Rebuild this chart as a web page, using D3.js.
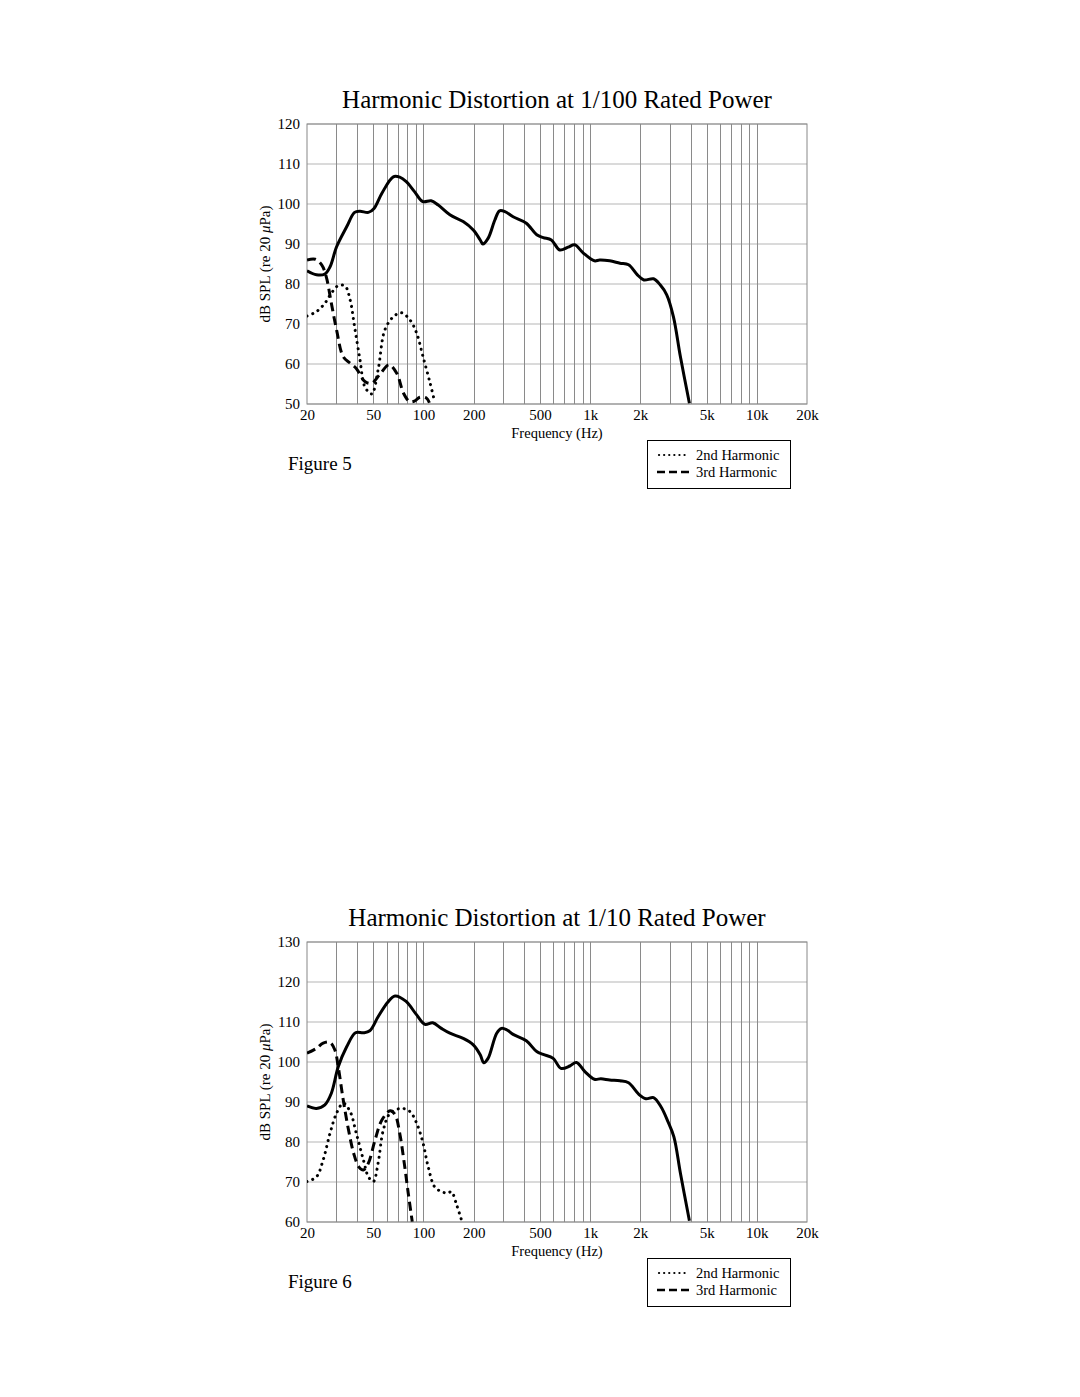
<!DOCTYPE html>
<html><head><meta charset="utf-8">
<script src="https://cdn.jsdelivr.net/npm/d3@7"></script>
<style>body{margin:0;background:#fff}svg text{font-family:"Liberation Serif","Times New Roman",serif;fill:#000}</style>
</head><body><svg id="c" width="1080" height="1397"></svg>
<script>
const xTickValues = [20,50,100,200,500,1000,2000,5000,10000,20000];
const xTickLabels = ["20","50","100","200","500","1k","2k","5k","10k","20k"];
const xGridValues = [30,40,50,60,70,80,90,100,200,300,400,500,600,700,800,900,1000,2000,3000,4000,5000,6000,7000,8000,9000,10000];
const legendLabels = ["2nd Harmonic","3rd Harmonic"];

// Figure 5 : 1/100 rated power
const fig5Freq = [20,22.8,25.6,27.5,30.1,34.6,38.6,41.6,46.7,50.5,56.3,65.9,72,78.8,88.3,99,111,122,144,173,199,219,227,244,268,286,308,345,414,478,523,585,657,737,808,907,1060,1140,1310,1510,1700,1920,2100,2400,2630,2880,3160,3480,3940];
const fig5Main = [83.3,82.3,82.5,84.3,89.3,94.3,97.9,98.2,97.9,98.9,102.7,106.8,106.7,105.6,103.1,100.6,100.8,99.8,97.3,95.6,93.5,91,90,91.4,96,98.3,98.1,96.8,95.2,92.3,91.6,91,88.5,89.2,89.8,87.8,85.8,86,85.8,85.2,84.8,82.3,81,81.3,79.8,77.3,71.8,61.8,50.2];
const fig5H2Freq = [20,22.8,25.6,28,30.8,33.8,36.3,38.6,41.6,44.5,48.9,53.4,58.6,65.9,73.8,83,91,99.4,109.6,116.6];
const fig5H2 = [72,73.1,75.2,77.7,79.6,79.5,76,69.3,61,54.3,52.5,58.5,68.5,71.8,72.8,71,67.7,61.8,55.2,50.6];
const fig5H3Freq = [20,22.4,24.5,26.1,28,30.1,33,36.3,39.5,44.5,48.9,54.5,62.2,69.1,75.9,82.6,88.3,95.1,104,108.5];
const fig5H3 = [86,86.2,84.8,81.8,75.2,68.5,61.8,60.2,58.9,55.6,55.2,57.3,59.8,57.7,52.7,50.6,50.7,51.7,51.5,50.3];

// Figure 6 : 1/10 rated power
const fig6Freq = [20,22.8,25.6,28,30.8,34.6,39.1,43.6,47.6,53.4,61.2,67.5,78.3,90.5,102,113.6,128,144,173,199,219,230,244,275,294,317,345,414,478,523,600,668,755,827,930,1060,1160,1310,1510,1700,1960,2160,2400,2660,2930,3180,3480,3940];
const fig6Main = [89,88.4,89.3,92.2,98.8,103.8,107.3,107.3,107.8,111.3,115,116.5,115.2,111.9,109.4,109.8,108.4,107.2,105.9,104.3,101.8,99.8,100.9,107.2,108.4,108,106.9,105.3,102.6,101.9,100.9,98.4,99,99.9,97.6,95.7,95.8,95.5,95.3,94.8,91.9,90.8,91.1,88.8,85.1,81.3,72.2,60.3];
const fig6H2Freq = [20,22.8,25,27.5,30.1,33,36.3,39.5,43.6,46.7,50,53.4,57.4,63.1,73.8,83,91,99.4,106.7,116.6,128,140,147,158,169];
const fig6H2 = [70.1,71.3,75.5,82.2,87.2,89.7,87.6,82.2,75.5,71.3,70.1,74.7,83,87.2,88.4,87.6,84.7,79.7,73.8,68.8,67.6,67.2,67.6,64.3,60.5];
const fig6H3Freq = [20,22.8,25,27.5,29.4,30.8,33,35.5,38.1,40.9,43.6,46.7,51.2,56.3,63.1,67.6,72,76.2,81,85.6];
const fig6H3 = [102.2,103.4,104.7,104.9,103,98.8,90.5,83,77.2,73.8,73,74.7,80.5,85.5,87.8,86.8,82.2,75.5,67.2,60.1];

const svg = d3.select("#c");

function drawChart(o){
  const L=307,R=807,T=o.top,B=o.top+280;
  const g = svg.append("g");
  const x = d3.scaleLog().domain([20,20000]).range([L,R]);
  const y = d3.scaleLinear().domain(o.yDomain).range([B,T]);
  const yTicks = d3.range(o.yDomain[0], o.yDomain[1]+1, 10);
  g.append("text").attr("x",557).attr("y",T-16).attr("text-anchor","middle").attr("font-size",25).text(o.title);
  // grid
  g.selectAll(".hg").data(yTicks).join("line").attr("x1",L).attr("x2",R).attr("y1",d=>y(d)).attr("y2",d=>y(d)).attr("stroke","#b5b5b5").attr("stroke-width",1);
  g.selectAll(".vg").data(xGridValues).join("line").attr("x1",d=>Math.round(x(d))+0.5).attr("x2",d=>Math.round(x(d))+0.5).attr("y1",T).attr("y2",B).attr("stroke","#8a8a8a").attr("stroke-width",1);
  g.append("rect").attr("x",L).attr("y",T).attr("width",R-L).attr("height",B-T).attr("fill","none").attr("stroke","#888").attr("stroke-width",1);
  // axes
  const ya = d3.axisLeft(y).tickValues(yTicks).tickSize(0).tickPadding(7);
  const yg = g.append("g").attr("transform",`translate(${L},0)`).call(ya);
  yg.select(".domain").remove();
  yg.selectAll("text").attr("font-size",15).attr("font-family","Liberation Serif").attr("fill","#000");
  const xa = d3.axisBottom(x).tickValues(xTickValues).tickFormat((d,i)=>xTickLabels[i]).tickSize(0).tickPadding(5);
  const xg = g.append("g").attr("transform",`translate(0,${B})`).call(xa);
  xg.select(".domain").remove();
  xg.selectAll("text").attr("font-size",15).attr("font-family","Liberation Serif").attr("fill","#000");
  g.append("text").attr("x",557).attr("y",B+34).attr("text-anchor","middle").attr("font-size",14.5).text("Frequency (Hz)");
  const yl = g.append("text").attr("transform",`translate(270,${(T+B)/2}) rotate(-90)`).attr("text-anchor","middle").attr("font-size",15);
  yl.append("tspan").text("dB SPL (re 20 ");
  yl.append("tspan").attr("font-style","italic").text("μ");
  yl.append("tspan").text("Pa)");
  // clip
  const cid = "clip"+o.id;
  svg.append("clipPath").attr("id",cid).append("rect").attr("x",L).attr("y",T-5).attr("width",R-L).attr("height",B-T+5);
  const line = d3.line().x(d=>x(d[0])).y(d=>y(d[1])).curve(d3.curveCatmullRom.alpha(0.5));
  const pl = g.append("g").attr("clip-path",`url(#${cid})`);
  const zip=(a,b)=>a.map((v,i)=>[v,b[i]]);
  pl.append("path").attr("d",line(zip(o.h2f,o.h2))).attr("fill","none").attr("stroke","#000").attr("stroke-width",3).attr("stroke-dasharray","0.1 6").attr("stroke-linecap","round");
  pl.append("path").attr("d",line(zip(o.h3f,o.h3))).attr("fill","none").attr("stroke","#000").attr("stroke-width",3).attr("stroke-dasharray","9 5");
  pl.append("path").attr("d",line(zip(o.mf,o.m))).attr("fill","none").attr("stroke","#000").attr("stroke-width",3).attr("stroke-linejoin","round");
  // figure label
  g.append("text").attr("x",288).attr("y",B+66).attr("font-size",19).text(o.fig);
  // legend
  const ly = o.legTop;
  g.append("rect").attr("x",647.5).attr("y",ly+0.5).attr("width",143).attr("height",48).attr("fill","none").attr("stroke","#000").attr("stroke-width",1);
  g.append("line").attr("x1",659).attr("x2",688).attr("y1",ly+15).attr("y2",ly+15).attr("stroke","#000").attr("stroke-width",2.2).attr("stroke-dasharray","0.1 5").attr("stroke-linecap","round");
  g.append("line").attr("x1",657).attr("x2",689).attr("y1",ly+32).attr("y2",ly+32).attr("stroke","#000").attr("stroke-width",2.5).attr("stroke-dasharray","8 4");
  g.selectAll(".lt").data(legendLabels).join("text").attr("x",696).attr("y",(d,i)=>ly+20+i*17).attr("font-size",14.5).text(d=>d);
}

drawChart({id:5,top:124,yDomain:[50,120],title:"Harmonic Distortion at 1/100 Rated Power",fig:"Figure 5",legTop:440,
  mf:fig5Freq,m:fig5Main,h2f:fig5H2Freq,h2:fig5H2,h3f:fig5H3Freq,h3:fig5H3});
drawChart({id:6,top:942,yDomain:[60,130],title:"Harmonic Distortion at 1/10 Rated Power",fig:"Figure 6",legTop:1258,
  mf:fig6Freq,m:fig6Main,h2f:fig6H2Freq,h2:fig6H2,h3f:fig6H3Freq,h3:fig6H3});
</script></body></html>
